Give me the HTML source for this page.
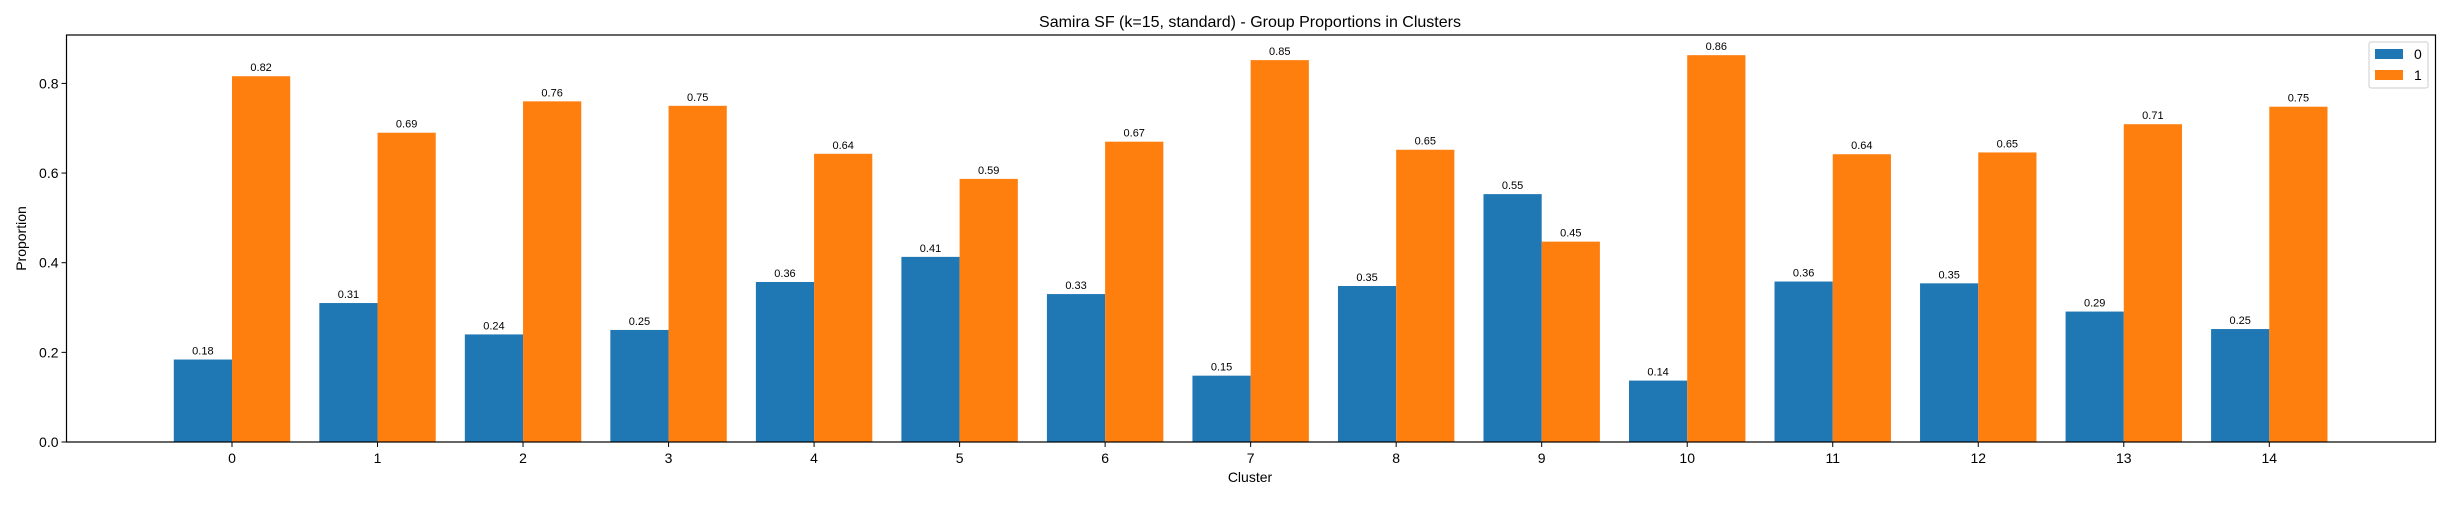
<!DOCTYPE html>
<html><head><meta charset="utf-8"><style>
body{margin:0;background:#fff}
svg text{font-family:"Liberation Sans","DejaVu Sans",sans-serif;fill:#000}
</style></head><body>
<svg id="chart" width="2450" height="500" xmlns="http://www.w3.org/2000/svg">
<rect x="0" y="0" width="2450" height="500" fill="#fff"/>
<text x="1250" y="27" font-size="16" text-anchor="middle">Samira SF (k=15, standard) - Group Proportions in Clusters</text>
<g id="bars"></g>
<g id="axes"></g>
<text x="1250" y="482" font-size="14" text-anchor="middle">Cluster</text>
<text x="0" y="0" font-size="14" text-anchor="middle" transform="translate(26,238.5) rotate(-90)">Proportion</text>
<g>
<rect x="2369" y="42" width="59" height="46" rx="2" fill="#fff" fill-opacity="0.8" stroke="#ccc"/>
<g><rect x="2375" y="49" width="28" height="10" fill="#1f77b4"/><text x="2414" y="59" font-size="14">0</text></g>
<g><rect x="2375" y="70" width="28" height="10" fill="#ff7f0e"/><text x="2414" y="80" font-size="14">1</text></g>
</g>
</svg>
<script>
const categories=["0","1","2","3","4","5","6","7","8","9","10","11","12","13","14"];
const group0=[0.184,0.31,0.24,0.25,0.357,0.413,0.33,0.148,0.348,0.553,0.137,0.358,0.354,0.291,0.252];
const group1=[0.816,0.69,0.76,0.75,0.643,0.587,0.67,0.852,0.652,0.447,0.863,0.642,0.646,0.709,0.748];
const yTicks=[0.0,0.2,0.4,0.6,0.8];
const NS="http://www.w3.org/2000/svg";
const L=66.5,R=2435.5,T=35,B=442,yMax=0.908;
const x0=232,step=(2269.3-232)/14,bw=step*0.4;
function xs(i){return x0+i*step;}
function ys(v){return B-(v/yMax)*(B-T);}
function mk(t,a,p){const e=document.createElementNS(NS,t);for(const k in a)e.setAttribute(k,a[k]);p.appendChild(e);return e;}
const bars=document.getElementById('bars'),axes=document.getElementById('axes');
[[group0,'#1f77b4',-1],[group1,'#ff7f0e',0]].forEach(([arr,col,off],s)=>{
 arr.forEach((v,i)=>{
  const x=xs(i)+off*bw;
  const r=mk('rect',{x:x,y:ys(v),width:bw,height:B-ys(v),fill:col},bars);
  
  
  const t=mk('text',{x:x+bw/2,y:ys(v)-5,'font-size':11,'text-anchor':'middle'},bars);
  t.textContent=v.toFixed(2);
  
  
 });
});
const fr=mk('rect',{x:L,y:T,width:R-L,height:B-T,fill:'none',stroke:'#000','stroke-width':1.2},axes);


yTicks.forEach(v=>{
 const y=ys(v);
 mk('line',{x1:L-5,x2:L,y1:y,y2:y,stroke:'#000'},axes);
 const t=mk('text',{x:L-8,y:y+5,'font-size':14,'text-anchor':'end'},axes);
 t.textContent=v.toFixed(1);
 
 
});
categories.forEach((c,i)=>{
 const x=xs(i);
 mk('line',{x1:x,x2:x,y1:B,y2:B+5,stroke:'#000'},axes);
 const t=mk('text',{x:x,y:B+21,'font-size':14,'text-anchor':'middle'},axes);
 t.textContent=c;
 
 
});
</script>
</body></html>
